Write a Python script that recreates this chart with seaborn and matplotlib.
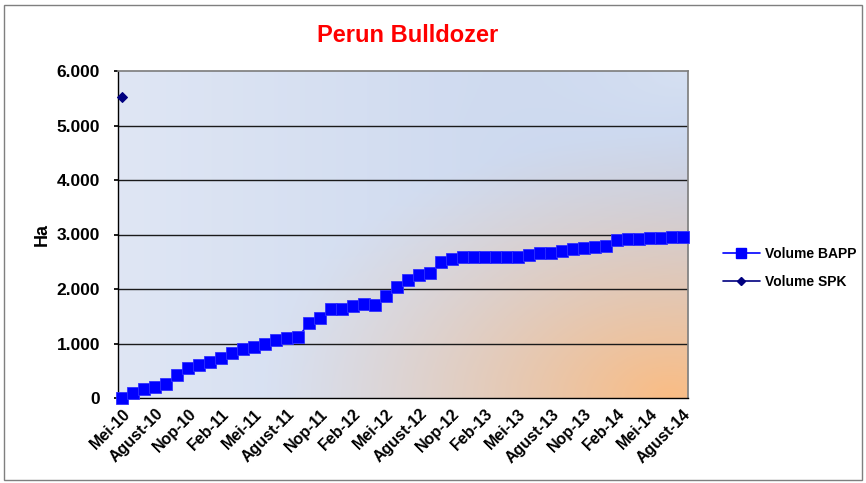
import numpy as np
import pandas as pd
import matplotlib
matplotlib.use("Agg")
import matplotlib.pyplot as plt
import seaborn as sns
from matplotlib.patches import Rectangle
from matplotlib.lines import Line2D

# ---- data ----
months = list(range(52))  # Mei-10 .. Agust-14
tick_labels = ["Mei-10", "Agust-10", "Nop-10", "Feb-11", "Mei-11", "Agust-11",
               "Nop-11", "Feb-12", "Mei-12", "Agust-12", "Nop-12", "Feb-13",
               "Mei-13", "Agust-13", "Nop-13", "Feb-14", "Mei-14", "Agust-14"]
volume_bapp = [0, 86, 171, 208, 257, 422, 556, 600, 661, 734,
               831, 893, 936, 996, 1064, 1106, 1114, 1385, 1477, 1627,
               1627, 1682, 1719, 1715, 1865, 2030, 2158, 2257, 2287, 2502,
               2557, 2587, 2587, 2587, 2587, 2587, 2587, 2624, 2655, 2655,
               2703, 2734, 2746, 2764, 2783, 2899, 2911, 2917, 2930, 2942,
               2954, 2960]
spk_month = [0]
volume_spk = [5530]

sns.set_theme(style="white")
plt.rcParams['font.family'] = ['Liberation Sans', 'DejaVu Sans']
plt.rcParams.update({"text.color": "black", "axes.labelcolor": "black",
                     "xtick.color": "black", "ytick.color": "black"})

fig = plt.figure(figsize=(8.66, 4.83), dpi=100)
fig.patch.set_facecolor("white")
fig.patches.append(Rectangle((4/866, 3/483), 858/866, 475/483, transform=fig.transFigure,
                             fill=False, edgecolor="#7f7f7f", linewidth=1.0))

ax = fig.add_axes([118/866, 1-398/483, (688-118)/866, (398-71)/483])

# background gradient
H, W = 200, 300
yy, xx = np.mgrid[0:1:H*1j, 0:1:W*1j]  # yy: 0 top -> 1 bottom
c_left = np.array([0.875, 0.902, 0.957])
c_mid = np.array([0.775, 0.83, 0.93])
t = xx[..., None]
base = c_left[None, None, :] * (1 - t) + c_mid[None, None, :] * t
dtr = np.sqrt(((xx - 1.0) / 0.45) ** 2 + ((yy - 0.0) / 0.45) ** 2)
wtr = np.clip(1 - dtr, 0, 1) ** 1.5 * 0.6
light = np.array([0.88, 0.91, 0.96])
base = base * (1 - wtr[..., None]) + light[None, None, :] * wtr[..., None]
d = np.sqrt(((xx - 0.97) / 0.72) ** 2 + ((yy - 1.0) / 0.82) ** 2)
w = np.clip(1 - d, 0, 1) ** 1.2
orange = np.array([0.98, 0.74, 0.52])
img = base * (1 - w[..., None]) + orange[None, None, :] * w[..., None]
ax.imshow(img, extent=[0, 1, 0, 1], transform=ax.transAxes, aspect="auto", zorder=0)

df_b = pd.DataFrame({"m": months, "v": volume_bapp})
df_s = pd.DataFrame({"m": spk_month, "v": volume_spk})
sns.lineplot(data=df_b, x="m", y="v", ax=ax, color="#0000ff", marker="s", markersize=8.5,
             markeredgecolor="#3030ff", markeredgewidth=0.6, linewidth=1.2, zorder=4, clip_on=False)
sns.lineplot(data=df_s, x="m", y="v", ax=ax, color="#000080", marker="D", markersize=5.5,
             markeredgecolor="#000080", linewidth=1.2, zorder=5, clip_on=False)

ax.set_xlim(-0.4, 51.45)
ax.set_ylim(0, 6000)
ax.set_yticks(range(0, 6001, 1000))
ax.set_yticklabels(["0", "1.000", "2.000", "3.000", "4.000", "5.000", "6.000"],
                   fontsize=12.5, fontweight="bold", color="black")
ax.set_xticks(list(range(0, 52, 3)))
ax.set_xticklabels(tick_labels, rotation=45, ha="right", rotation_mode="anchor",
                   fontsize=11.5, fontweight="bold", color="black")
ax.tick_params(axis="x", length=0, pad=6)
ax.tick_params(axis="y", length=3, pad=10, color="black", left=True)
for yv in range(1000, 6000, 1000):
    ax.axhline(yv, color="#1a1a1a", linewidth=1.0, zorder=1)
ax.set_xlabel("")
ax.set_ylabel("Ha", fontsize=13, fontweight="bold", labelpad=4, color="black")
ax.spines["left"].set_color("black")
ax.spines["bottom"].set_color("black")
ax.spines["left"].set_linewidth(1.0)
ax.spines["bottom"].set_linewidth(1.0)
ax.spines["top"].set_color("#808080")
ax.spines["right"].set_color("#808080")
if ax.get_legend():
    ax.get_legend().remove()

fig.text(408/866, 1-35/483, "Perun Bulldozer", color="#ff0000", fontsize=17,
         fontweight="bold", ha="center", va="center")

handles = [Line2D([0], [0], color="#0000ff", marker="s", markersize=6.5, linewidth=1.2),
           Line2D([0], [0], color="#000080", marker="D", markersize=4.5, linewidth=1.2)]
leg = fig.legend(handles, ["Volume BAPP", "Volume SPK"], loc="center left",
                 bbox_to_anchor=(717/866, 1-268/483), frameon=False,
                 prop={"weight": "bold", "size": 10}, handlelength=2.7, labelspacing=1.0,
                 handletextpad=0.35, borderaxespad=0.0)
for txt in leg.get_texts():
    txt.set_color("black")

fig.savefig("out.png", dpi=100)
